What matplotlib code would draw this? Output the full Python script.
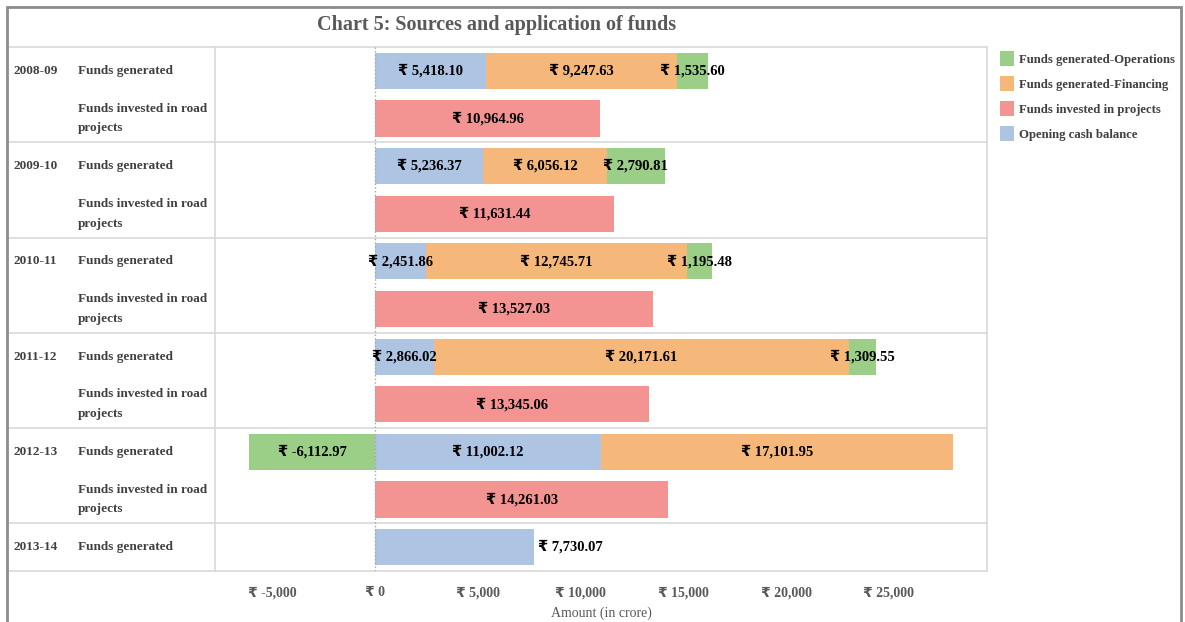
import numpy as np
import matplotlib
matplotlib.use("Agg")
import matplotlib.pyplot as plt
from matplotlib.patches import Patch, Rectangle
from matplotlib.lines import Line2D
import matplotlib.transforms as mtransforms

plt.rcParams['font.family'] = ['Liberation Serif', 'DejaVu Sans']
plt.rcParams['font.weight'] = 'bold'

# data (Rs crore)
years = ['2008-09', '2009-10', '2010-11', '2011-12', '2012-13', '2013-14']
opening_cash = [5418.10, 5236.37, 2451.86, 2866.02, 11002.12, 7730.07]
financing = [9247.63, 6056.12, 12745.71, 20171.61, 17101.95]
operations = [1535.60, 2790.81, 1195.48, 1309.55, -6112.97]
invested = [10964.96, 11631.44, 13527.03, 13345.06, 14261.03]
series_names = ['Funds generated-Operations', 'Funds generated-Financing',
                'Funds invested in projects', 'Opening cash balance']
xticks = [-5000, 0, 5000, 10000, 15000, 20000, 25000]

c_ops = '#9bcf88'
c_fin = '#f6b87a'
c_inv = '#f39493'
c_open = '#aec4e3'
grid_c = '#d9d9d9'
txt_c = '#404040'

W, H = 1185, 622
fig = plt.figure(figsize=(W / 100, H / 100), dpi=100)

def fx(px):
    return px / W

def fy(py):
    return 1 - py / H

ax = fig.add_axes([fx(215), fy(571), fx(987) - fx(215), fy(47) - fy(571)])
ax.set_xlim(-7790, 29770)
ax.set_ylim(10.5, -0.5)

bh = 0.76
lab_fs = 10.5
lab_kw = dict(ha='center', va='center', fontsize=lab_fs, color='black', fontweight='bold')

def rs(v):
    return "\u20b9 {:,.2f}".format(v)

for i, yr in enumerate(years):
    yg = 2 * i
    oc = opening_cash[i]
    ax.barh(yg, oc, height=bh, color=c_open, edgecolor='none')
    if i < len(financing):
        fi = financing[i]
        op = operations[i]
        ax.barh(yg, fi, left=oc, height=bh, color=c_fin, edgecolor='none')
        ax.text(oc / 2, yg, rs(oc), **lab_kw)
        ax.text(oc + fi / 2, yg, rs(fi), **lab_kw)
        if op >= 0:
            ax.barh(yg, op, left=oc + fi, height=bh, color=c_ops, edgecolor='none')
            ax.text(oc + fi + op / 2, yg, rs(op), **lab_kw)
        else:
            ax.barh(yg, op, left=0, height=bh, color=c_ops, edgecolor='none')
            ax.text(op / 2, yg, rs(op), **lab_kw)
        yi = yg + 1
        ax.barh(yi, invested[i], height=bh, color=c_inv, edgecolor='none')
        ax.text(invested[i] / 2, yi, rs(invested[i]), **lab_kw)
    else:
        ax.text(oc + 200, yg, rs(oc), ha='left', va='center', fontsize=lab_fs,
                color='black', fontweight='bold')

# row labels on the left
row_fs = 9.5
tr = mtransforms.blended_transform_factory(fig.transFigure, ax.transData)
for i, yr in enumerate(years):
    yg = 2 * i
    ax.text(fx(14), yg, yr, transform=tr, ha='left', va='center', fontsize=row_fs,
            color=txt_c, clip_on=False)
    ax.text(fx(78), yg, 'Funds generated', transform=tr, ha='left', va='center',
            fontsize=row_fs, color=txt_c, clip_on=False)
    if i < len(invested):
        ax.text(fx(78), yg + 1, 'Funds invested in road\nprojects', transform=tr,
                ha='left', va='center', fontsize=row_fs, color=txt_c,
                linespacing=1.85, clip_on=False)

# table lines
for yl in [-0.5, 1.5, 3.5, 5.5, 7.5, 9.5, 10.5]:
    ax.add_line(Line2D([fx(8), fx(987)], [yl, yl], transform=tr, color=grid_c,
                       lw=1.2, clip_on=False))
ax.axvline(0, color='#a6a6a6', ls=':', lw=1)

for s in ['top', 'bottom']:
    ax.spines[s].set_visible(False)
for s in ['left', 'right']:
    ax.spines[s].set_color(grid_c)
    ax.spines[s].set_linewidth(1.2)

ax.set_yticks([])
ax.set_xticks(xticks)
ax.set_xticklabels(["\u20b9 {:,.0f}".format(v) for v in xticks])
ax.tick_params(axis='x', length=0, pad=11, labelsize=10, labelcolor='#595959')
ax.set_xlabel('Amount (in crore)', fontsize=10, color='#595959', labelpad=5)

fig.text(fx(497), fy(25), 'Chart 5: Sources and application of funds',
         ha='center', va='center', fontsize=14.5, color='#595959', fontweight='bold')

handles = [Patch(facecolor=c, edgecolor='none') for c in [c_ops, c_fin, c_inv, c_open]]
fig.legend(handles, series_names, loc='upper left',
           bbox_to_anchor=(fx(1000), fy(51)), frameon=False, fontsize=9.2,
           handlelength=1.1, handleheight=1.4, handletextpad=0.4,
           labelspacing=0.8, borderpad=0, borderaxespad=0,
           labelcolor=txt_c)

# outer frame
fig.patches.append(Rectangle((fx(7), fy(640)), fx(1181) - fx(7), fy(7) - fy(640),
                             transform=fig.transFigure, fill=False,
                             edgecolor='#8c8c8c', lw=2))

fig.savefig('out.png', dpi=100)
